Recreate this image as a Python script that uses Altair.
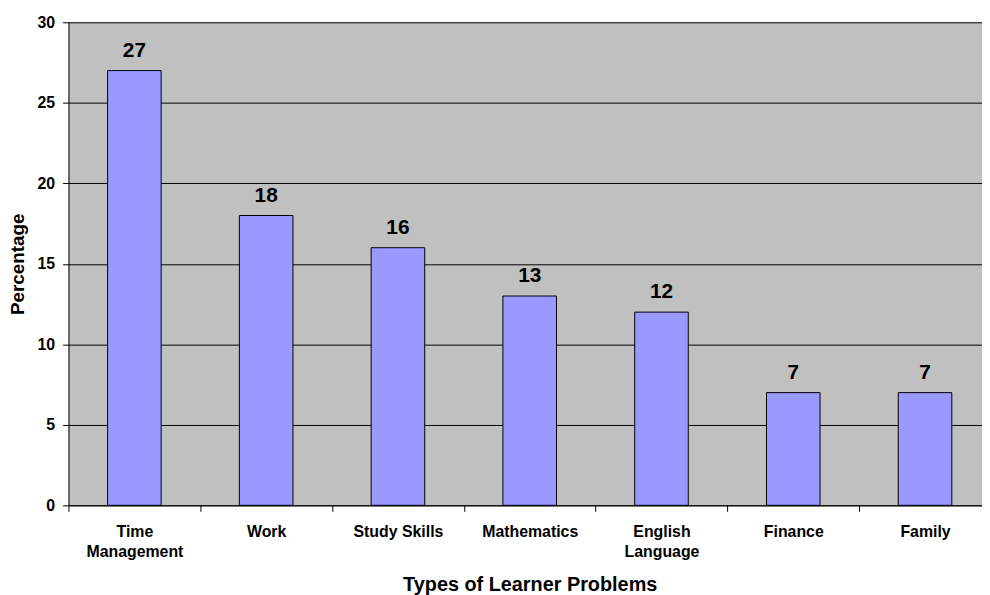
import altair as alt
import pandas as pd

categories = ["Time\nManagement", "Work", "Study Skills", "Mathematics",
              "English\nLanguage", "Finance", "Family"]
values = [27, 18, 16, 13, 12, 7, 7]
y_ticks = [0, 5, 10, 15, 20, 25, 30]

df = pd.DataFrame({"category": categories, "value": values})

FONT = "Liberation Sans"
W, H = 921, 487

x_enc = alt.X(
    "category:N",
    sort=None,
    scale=alt.Scale(range=[0, 930], paddingInner=0, paddingOuter=0),
    axis=alt.Axis(
        title="Types of Learner Problems",
        labelAngle=0,
        labelExpr="split(datum.label, '\\n')",
        labelLineHeight=21,
        labelFont=FONT,
        labelFontSize=16,
        labelFontWeight="bold",
        labelColor="black",
        labelPadding=12,
        labelBaseline="top",
        labelOverlap=False,
        tickBand="extent",
        tickSize=6,
        tickColor="black",
        domainColor="black",
        grid=False,
        titleFont=FONT,
        titleFontSize=20,
        titleFontWeight="bold",
        titleColor="black",
        titleX=465,
        titleY=86,
        titleAlign="center",
        titleBaseline="alphabetic",
    ),
)

y_enc = alt.Y(
    "value:Q",
    scale=alt.Scale(domain=[0, 30], nice=False),
    axis=alt.Axis(
        title="Percentage",
        values=y_ticks,
        labelFont=FONT,
        labelFontSize=16,
        labelFontWeight="bold",
        labelColor="black",
        labelPadding=8,
        tickSize=6,
        tickColor="black",
        domainColor="black",
        grid=True,
        gridColor="black",
        gridWidth=1,
        titleFont=FONT,
        titleFontSize=19,
        titleFontWeight="bold",
        titleColor="black",
        titleX=-41,
        titleY=243.5,
        titleAngle=270,
        titleAlign="center",
        titleBaseline="bottom",
    ),
)

bars = alt.Chart(df).mark_bar(
    width=54, fill="#9999FF", stroke="black", strokeWidth=1
).encode(x=x_enc, y=y_enc)

labels = alt.Chart(df).mark_text(
    dy=-14, fontSize=21, fontWeight="bold", font=FONT,
    baseline="alphabetic", align="center", color="black"
).encode(x=alt.X("category:N", sort=None), y="value:Q", text="value:Q")

chart = alt.layer(bars, labels).properties(
    width=W,
    height=H,
    autosize=alt.AutoSizeParams(type="none"),
    padding={"left": 61, "top": 12, "right": 0, "bottom": 88},
    background="white",
).configure_view(fill="#C0C0C0", strokeWidth=0)

chart.save("out.html", embed_options={"renderer": "svg", "actions": False})
